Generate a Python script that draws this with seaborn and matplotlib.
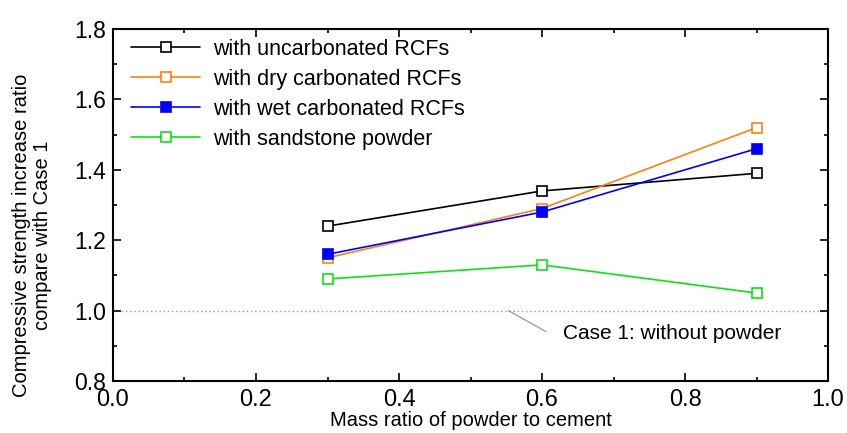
import matplotlib
matplotlib.use('Agg')
import matplotlib.pyplot as plt
from matplotlib.ticker import MultipleLocator
import seaborn as sns
import pandas as pd

# data
mass_ratio = [0.3, 0.6, 0.9]
uncarbonated = [1.24, 1.34, 1.39]
dry_carbonated = [1.15, 1.29, 1.52]
wet_carbonated = [1.16, 1.28, 1.46]
sandstone = [1.09, 1.13, 1.05]

series_names = [
    'with uncarbonated RCFs',
    'with dry carbonated RCFs',
    'with wet carbonated RCFs',
    'with sandstone powder',
]
series_values = [uncarbonated, dry_carbonated, wet_carbonated, sandstone]
colors = ['#000000', '#ff8010', '#0000ff', '#10e010']
filled = [False, False, True, False]

sns.set_style('ticks', {'text.color': 'black', 'axes.labelcolor': 'black',
                        'xtick.color': 'black', 'ytick.color': 'black',
                        'axes.edgecolor': 'black'})
plt.rcParams['font.family'] = ['Liberation Sans', 'DejaVu Sans']

fig = plt.figure(figsize=(8.47, 4.33), dpi=100)
ax = fig.add_axes([0.1334, 0.120, 0.8442, 0.813])

for name, vals, c, f in zip(series_names, series_values, colors, filled):
    df = pd.DataFrame({'x': mass_ratio, 'y': vals})
    sns.lineplot(data=df, x='x', y='y', ax=ax, color=c, linewidth=1.2,
                 marker='s', markersize=7, markeredgecolor=c,
                 markerfacecolor=c if f else 'white', markeredgewidth=1.2,
                 label=name)

# reference level (Case 1)
ax.axhline(1.0, color='#999999', linestyle=(0, (1, 2)), linewidth=1.0, zorder=0)
ax.annotate('Case 1: without powder', xy=(0.553, 1.0), xytext=(0.63, 0.935),
            fontsize=15, va='center', ha='left',
            arrowprops=dict(arrowstyle='-', color='#777777', linestyle=(0, (1, 1)),
                            linewidth=0.8, shrinkA=0, shrinkB=0,
                            relpos=(-0.08, 0.6)))

ax.set_xlim(0.0, 1.0)
ax.set_ylim(0.8, 1.8)
ax.xaxis.set_major_locator(MultipleLocator(0.2))
ax.xaxis.set_minor_locator(MultipleLocator(0.1))
ax.yaxis.set_major_locator(MultipleLocator(0.2))
ax.yaxis.set_minor_locator(MultipleLocator(0.1))
ax.xaxis.set_major_formatter(plt.FormatStrFormatter('%.1f'))
ax.yaxis.set_major_formatter(plt.FormatStrFormatter('%.1f'))
ax.tick_params(which='both', direction='in', top=True, right=True, width=1.2,
               labelsize=17)
ax.tick_params(axis='x', pad=6)
ax.tick_params(axis='y', pad=5, labelsize=16.5)
ax.tick_params(which='major', length=6)
ax.tick_params(which='minor', length=3)
for s in ax.spines.values():
    s.set_linewidth(1.5)

ax.set_xlabel('Mass ratio of powder to cement', fontsize=14.5, labelpad=0)
ax.set_ylabel('Compressive strength increase ratio\ncompare with Case 1',
              fontsize=14.5, linespacing=1.15)
ax.yaxis.set_label_coords(-0.085, 0.415)

leg = ax.legend(loc='upper left', frameon=False,
                prop={'size': 15.5},
                handlelength=3.2, handletextpad=0.6, labelspacing=0.42,
                borderaxespad=0.05, bbox_to_anchor=(0.012, 1.0))

fig.savefig('out.png', dpi=100)
